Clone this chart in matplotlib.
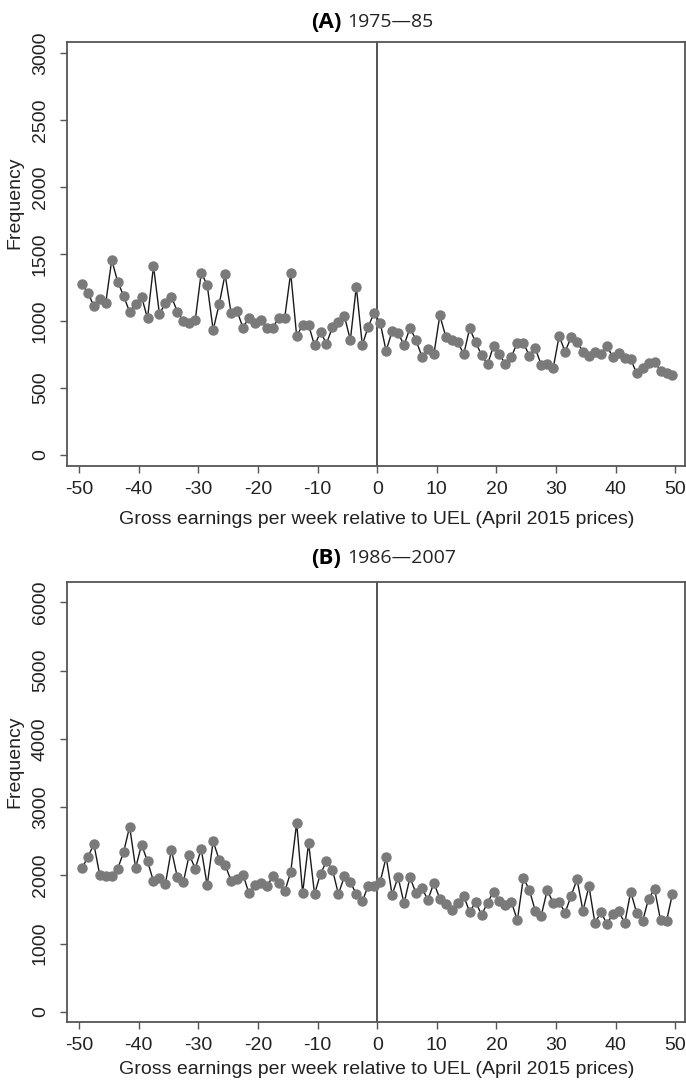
import numpy as np
import matplotlib
matplotlib.use("Agg")
from matplotlib import pyplot as plt

plt.rcParams['font.family'] = ['Liberation Sans', 'DejaVu Sans']
plt.rcParams['axes.unicode_minus'] = False

# bin midpoints, gross earnings relative to UEL
bins = np.arange(-49.5, 50, 1.0)

freq_a = [1274, 1211, 1112, 1162, 1137, 1455, 1293, 1187, 1067, 1127,
          1181, 1020, 1410, 1050, 1137, 1181, 1070, 1000, 987, 1007,
          1360, 1269, 933, 1124, 1348, 1062, 1075, 950, 1025, 983,
          1007, 945, 950, 1025, 1025, 1360, 888, 970, 970, 818,
          918, 831, 955, 995, 1037, 858, 1256, 821, 958, 1062,
          987, 776, 925, 913, 818, 950, 858, 734, 789, 751,
          1042, 883, 858, 846, 751, 945, 841, 746, 677, 813,
          751, 677, 734, 838, 838, 741, 796, 672, 679, 647,
          888, 771, 878, 846, 771, 739, 771, 754, 816, 729,
          759, 722, 714, 610, 647, 684, 696, 629, 614, 597]

freq_b = [2107, 2265, 2460, 2000, 1985, 1985, 2097, 2343, 2715, 2107,
          2450, 2206, 1912, 1960, 1877, 2376, 1971, 1901, 2303, 2097,
          2387, 1853, 2500, 2230, 2156, 1921, 1950, 2009, 1740, 1853,
          1887, 1838, 1985, 1887, 1765, 2044, 2769, 1740, 2475, 1725,
          2024, 2206, 2083, 1725, 1985, 1901, 1725, 1620, 1847, 1847,
          1901, 2269, 1715, 1975, 1590, 1970, 1740, 1813, 1640, 1887,
          1660, 1580, 1490, 1600, 1700, 1460, 1610, 1420, 1600, 1760,
          1620, 1560, 1610, 1340, 1960, 1790, 1480, 1410, 1780, 1600,
          1610, 1450, 1700, 1940, 1480, 1840, 1300, 1460, 1290, 1430,
          1470, 1300, 1760, 1450, 1330, 1660, 1800, 1340, 1330, 1730]

xticks = [-50, -40, -30, -20, -10, 0, 10, 20, 30, 40, 50]
yticks_a = [0, 500, 1000, 1500, 2000, 2500, 3000]
yticks_b = [0, 1000, 2000, 3000, 4000, 5000, 6000]

W, H = 686, 1084
fig = plt.figure(figsize=(W / 100, H / 100), dpi=100)


def panel(top, bottom, data, yticks, ylim, letter, years, title_y, ylab_y, xlab_y):
    ax = fig.add_axes([67 / W, 1 - bottom / H, (685 - 67) / W, (bottom - top) / H])
    ax.axvline(0, color='#444444', lw=1.3, zorder=1)
    ax.plot(bins, data, color='#1a1a1a', lw=1.0, zorder=2)
    ax.plot(bins, data, 'o', color='#7a7a7a', ms=6.5, mec='#7a7a7a', zorder=3)
    ax.set_xlim(-52, 51.6)
    ax.set_ylim(*ylim)
    ax.set_xticks(xticks)
    ax.set_yticks(yticks)
    ax.set_yticklabels([str(v) for v in yticks], rotation=90, va='center')
    ax.tick_params(axis='both', length=5, width=1, color='#555555',
                   labelsize=14, labelcolor='#222222')
    ax.tick_params(axis='x', pad=6)
    ax.tick_params(axis='y', pad=8)
    for s in ax.spines.values():
        s.set_color('#555555')
        s.set_linewidth(1.3)
    fig.text(341 / W, 1 - title_y / H, letter, ha='right', va='center',
             fontsize=16, fontweight='bold', family=['Open Sans', 'DejaVu Sans'])
    fig.text(347 / W, 1 - title_y / H, years, ha='left', va='center',
             fontsize=14, family=['Open Sans', 'DejaVu Sans'], color='#222222')
    fig.text(15 / W, 1 - ylab_y / H, 'Frequency', rotation=90, ha='center',
             va='center', fontsize=14, color='#222222')
    fig.text(377 / W, 1 - xlab_y / H,
             'Gross earnings per week relative to UEL (April 2015 prices)',
             ha='center', va='center', fontsize=14, color='#222222')
    return ax


panel(42, 466, freq_a, yticks_a, (-82, 3082), '(A)', '1975\u201485', 22, 203, 520)
panel(582, 1022, freq_b, yticks_b, (-150, 6300), '(B)', '1986\u20142007', 558, 762, 1070)

fig.savefig('out.png', dpi=100)
